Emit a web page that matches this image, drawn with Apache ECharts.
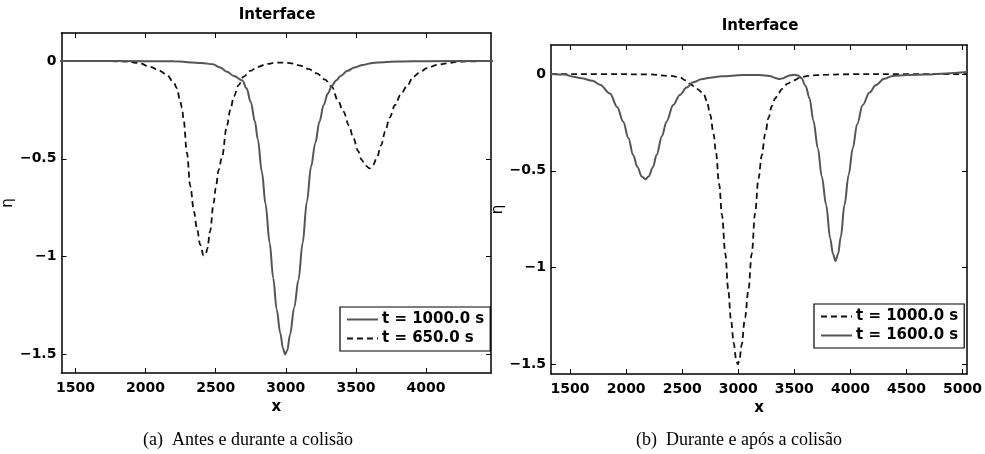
<!DOCTYPE html>
<html>
<head>
<meta charset="utf-8">
<script src="https://cdn.jsdelivr.net/npm/echarts@6/dist/echarts.min.js"></script>
<style>html,body{margin:0;padding:0;background:#fff;}#c{width:985px;height:454px;}</style>
</head>
<body>
<div id="c"></div>
<script>
// t = 1000.0 s (same profile in both panels)
const t1000X = [1330,1400,1800,2200,2400,2480,2530,2580,2630,2690,2720,2750,2780,2800,2830,2855,2885,2910,2935,2960,2980,2995,3010,3030,3060,3090,3120,3150,3180,3210,3240,3270,3300,3330,3360,3390,3440,3490,3550,3620,3700,3800,4000,4460,5040];
const t1000Y = [0,0,0,-0.002,-0.01,-0.017,-0.033,-0.055,-0.077,-0.1,-0.14,-0.21,-0.31,-0.40,-0.57,-0.73,-0.93,-1.11,-1.27,-1.39,-1.47,-1.5,-1.48,-1.40,-1.26,-1.12,-0.93,-0.72,-0.54,-0.42,-0.31,-0.225,-0.165,-0.125,-0.098,-0.077,-0.05,-0.033,-0.02,-0.01,-0.006,-0.003,-0.001,0,0];
// t = 650.0 s
const t650X = [1400,1700,1870,1950,2034,2100,2153,2200,2224,2245,2260,2271,2295,2319,2345,2367,2390,2414,2430,2440,2460,2485,2500,2521,2545,2580,2604,2630,2663,2700,2746,2800,2865,2930,2984,3040,3103,3160,3221,3280,3328,3370,3411,3450,3482,3515,3541,3570,3596,3620,3648,3680,3708,3740,3779,3820,3862,3910,3960,4005,4080,4147,4220,4290,4463];
const t650Y = [0,0,-0.003,-0.01,-0.03,-0.05,-0.072,-0.11,-0.14,-0.2,-0.24,-0.30,-0.47,-0.64,-0.77,-0.86,-0.94,-0.995,-0.985,-0.96,-0.87,-0.727,-0.65,-0.557,-0.49,-0.33,-0.25,-0.18,-0.123,-0.08,-0.051,-0.03,-0.015,-0.009,-0.008,-0.012,-0.024,-0.04,-0.063,-0.095,-0.131,-0.2,-0.259,-0.33,-0.395,-0.46,-0.506,-0.535,-0.549,-0.535,-0.497,-0.43,-0.361,-0.29,-0.225,-0.17,-0.131,-0.08,-0.055,-0.037,-0.02,-0.012,-0.005,-0.002,0];
// t = 1600.0 s
const t1600X = [1330,1450,1529,1600,1700,1767,1856,1920,1974,2020,2063,2100,2140,2173,2200,2240,2271,2320,2360,2420,2479,2540,2597,2670,2746,2850,3042,3191,3280,3330,3369,3400,3428,3465,3502,3535,3562,3600,3636,3670,3710,3745,3784,3820,3845,3867,3890,3915,3947,3985,4021,4060,4110,4170,4229,4300,4377,4500,4674,4850,5040];
const t1600Y = [0,-0.003,-0.014,-0.022,-0.035,-0.055,-0.10,-0.17,-0.246,-0.33,-0.419,-0.48,-0.53,-0.544,-0.53,-0.48,-0.419,-0.32,-0.246,-0.16,-0.108,-0.07,-0.043,-0.027,-0.019,-0.012,-0.005,-0.005,-0.01,-0.02,-0.026,-0.022,-0.014,-0.006,-0.004,-0.008,-0.02,-0.06,-0.126,-0.24,-0.384,-0.53,-0.677,-0.85,-0.93,-0.966,-0.93,-0.84,-0.677,-0.52,-0.384,-0.26,-0.16,-0.095,-0.057,-0.025,-0.01,-0.005,-0.003,0.003,0.01];

const xTicksA = [1500,2000,2500,3000,3500,4000];
const xTicksB = [1500,2000,2500,3000,3500,4000,4500,5000];
const yTicks = [0,-0.5,-1,-1.5];
const legendA = ['t = 1000.0 s','t = 650.0 s'];
const legendB = ['t = 1000.0 s','t = 1600.0 s'];
const titleText = 'Interface';
const captionA = '(a)  Antes e durante a colisão';
const captionB = '(b)  Durante e após a colisão';

const zip = (xs, ys) => xs.map((x, i) => [x, ys[i]]);
const SANS = '"DejaVu Sans"';
const fmt = v => String(v).replace('-', '\u2212');
const SOLID = '#555555', DASH = '#111111';

function xAx(grid, min, max, ticks, top) {
  return {
    gridIndex: grid, type: 'value', min: min, max: max, position: top ? 'top' : 'bottom',
    axisLine: {show: true, onZero: false, lineStyle: {color: '#000', width: 1.5}},
    axisTick: {show: true, inside: true, length: 5, customValues: ticks, lineStyle: {color: '#000', width: 1}},
    axisLabel: {show: !top, customValues: ticks, margin: 8, color: '#000', fontFamily: SANS, fontWeight: 'bold', fontSize: 14, formatter: v => String(v)},
    splitLine: {show: false},
    name: top ? '' : 'x', nameLocation: 'middle', nameGap: 25,
    nameTextStyle: {color: '#000', fontFamily: SANS, fontWeight: 'bold', fontSize: 15}
  };
}
function yAx(grid, min, max, right) {
  return {
    gridIndex: grid, type: 'value', min: min, max: max, position: right ? 'right' : 'left',
    axisLine: {show: true, onZero: false, lineStyle: {color: '#000', width: 1.5}},
    axisTick: {show: true, inside: true, length: 5, customValues: yTicks, lineStyle: {color: '#000', width: 1}},
    axisLabel: {show: !right, customValues: yTicks, margin: 5, color: '#000', fontFamily: SANS, fontWeight: 'bold', fontSize: 14, formatter: fmt},
    splitLine: {show: false},
    name: right ? '' : 'η', nameLocation: 'middle', nameGap: 38,
    nameTextStyle: {color: '#000', fontFamily: SANS, fontSize: 15}
  };
}
function line(name, data, xi, yi, dashed) {
  return {
    type: 'line', name: name, data: data, xAxisIndex: xi, yAxisIndex: yi,
    symbol: 'none', showSymbol: false, smooth: 0.35, smoothMonotone: 'x', animation: false,
    lineStyle: dashed ? {color: DASH, width: 1.8, type: [6, 4]} : {color: SOLID, width: 2, type: 'solid'},
    itemStyle: {color: dashed ? DASH : SOLID}
  };
}
const legendNames = {a1000: legendA[0], a650: legendA[1], b1000: legendB[0], b1600: legendB[1]};
function leg(left, top, data) {
  return {
    data: data, left: left, top: top, orient: 'vertical', selectedMode: false,
    backgroundColor: '#fff', borderColor: '#000', borderWidth: 1.2, borderRadius: 0,
    padding: [5, 6, 5, 6], itemGap: 4, itemWidth: 31, itemHeight: 14,
    itemStyle: {opacity: 0, borderWidth: 0},
    formatter: n => legendNames[n],
    textStyle: {color: '#000', fontFamily: SANS, fontWeight: 'bold', fontSize: 15, padding: [0, 0, 0, -1]}
  };
}

const chart = echarts.init(document.getElementById('c'), null, {renderer: 'canvas'});
chart.setOption({
  animation: false,
  backgroundColor: '#fff',
  grid: [
    {left: 61, top: 33, width: 430, height: 340, containLabel: false},
    {left: 551, top: 45, width: 417, height: 329, containLabel: false}
  ],
  xAxis: [
    xAx(0, 1400, 4463, xTicksA, false), xAx(0, 1400, 4463, xTicksA, true),
    xAx(1, 1330, 5040, xTicksB, false), xAx(1, 1330, 5040, xTicksB, true)
  ],
  yAxis: [
    yAx(0, -1.595, 0.143, false), yAx(0, -1.595, 0.143, true),
    yAx(1, -1.55, 0.15, false), yAx(1, -1.55, 0.15, true)
  ],
  legend: [
    leg(340, 307, ['a1000', 'a650']),
    leg(814, 304, ['b1000', 'b1600'])
  ],
  series: [
    line('a650', zip(t650X, t650Y), 0, 0, true),
    line('a1000', zip(t1000X, t1000Y), 0, 0, false),
    line('b1000', zip(t1000X, t1000Y), 2, 2, true),
    line('b1600', zip(t1600X, t1600Y), 2, 2, false)
  ],
  graphic: [
    {type: 'text', x: 277, y: 15, style: {text: titleText, textAlign: 'center', textVerticalAlign: 'middle', font: 'bold 15px ' + SANS, fill: '#000'}},
    {type: 'text', x: 760, y: 26, style: {text: titleText, textAlign: 'center', textVerticalAlign: 'middle', font: 'bold 15px ' + SANS, fill: '#000'}},
    {type: 'text', x: 248, y: 440, style: {text: captionA, textAlign: 'center', textVerticalAlign: 'middle', font: '18px "Liberation Serif"', fill: '#000'}},
    {type: 'text', x: 739, y: 440, style: {text: captionB, textAlign: 'center', textVerticalAlign: 'middle', font: '18px "Liberation Serif"', fill: '#000'}}
  ]
});
</script>
</body>
</html>
